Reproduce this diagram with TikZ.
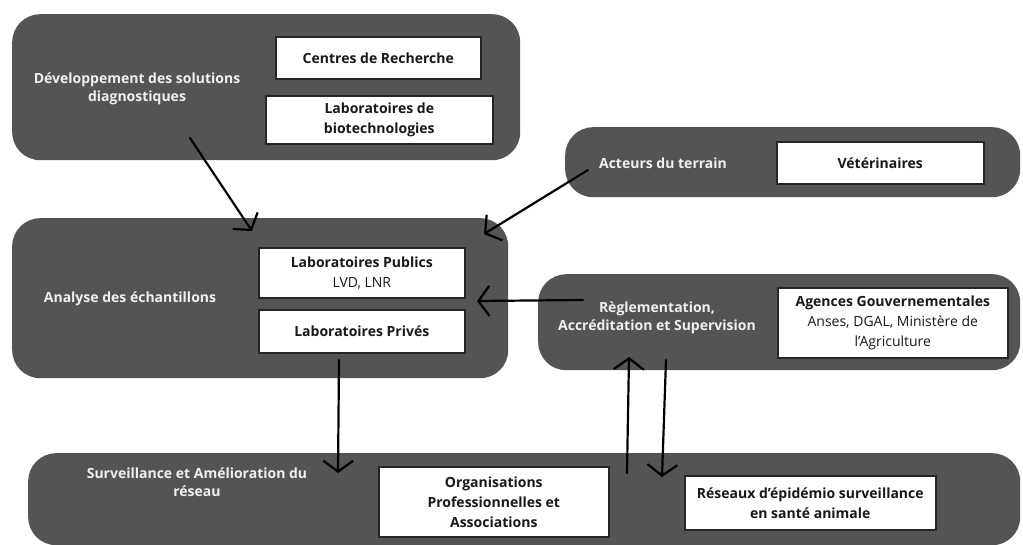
\documentclass[tikz,border=0pt]{standalone}
\usepackage{fontspec}
\setmainfont{Open Sans}
\usetikzlibrary{arrows.meta}
\definecolor{panelgray}{HTML}{545454}
\tikzset{
  panel/.style={fill=panelgray, draw=none, rounded corners=28pt, inner sep=0pt, anchor=north west},
  wbox/.style={fill=white, draw=black!85, line width=1.6pt, inner sep=0pt, anchor=north west, align=center,
    font=\bfseries\fontsize{14}{20}\selectfont, text=black!90},
  plabel/.style={text=white!94!black, font=\bfseries\fontsize{14}{17.5}\selectfont, align=center},
  flow/.style={draw=black, line width=2.2pt, line cap=round, -{Straight Barb[length=11pt,width=30pt]}},
}
\begin{document}
\begin{tikzpicture}[x=1pt,y=-1pt]
\useasboundingbox (0,0) rectangle (1023,544);
% panel 1
\node[panel, minimum width=508pt, minimum height=146pt] (p1) at (12,14) {};
\node[plabel] (l1) at (137,89) {Développement des solutions\\diagnostiques};
\node[wbox, minimum width=205pt, minimum height=42pt] (b1) at (275,36) {Centres de Recherche};
\node[wbox, minimum width=227pt, minimum height=48pt] (b2) at (265,95) {Laboratoires de\\biotechnologies};
% panel 2
\node[panel, minimum width=496pt, minimum height=160pt] (p2) at (12,218) {};
\node[plabel] (l2) at (130,299) {Analyse des échantillons};
\node[wbox, minimum width=206pt, minimum height=50pt] (b3) at (258,247) {Laboratoires Publics\\\mdseries LVD, LNR};
\node[wbox, minimum width=206pt, minimum height=43pt] (b4) at (258,309) {Laboratoires Privés};
% panel 3
\node[panel, minimum width=455pt, minimum height=70pt] (p3) at (565,127) {};
\node[plabel] (l3) at (663,163) {Acteurs du terrain};
\node[wbox, minimum width=207pt, minimum height=42pt] (b5) at (776,141) {Vétérinaires};
% panel 4
\node[panel, minimum width=482pt, minimum height=96pt] (p4) at (538,274) {};
\node[plabel] (l4) at (657,318) {Règlementation,\\Accréditation et Supervision};
\node[wbox, minimum width=230pt, minimum height=70pt] (b6) at (777,287) {Agences Gouvernementales\\\mdseries Anses, DGAL, Ministère de\\\mdseries l’Agriculture};
% panel 5
\node[panel, minimum width=992pt, minimum height=92pt] (p5) at (28,453) {};
\node[plabel] (l5) at (197,482) {Surveillance et Amélioration du\\réseau};
\node[wbox, minimum width=230pt, minimum height=70pt] (b7) at (378,466) {Organisations\\Professionnelles et\\Associations};
\node[wbox, minimum width=251pt, minimum height=54pt] (b8) at (684,475) {Réseaux d’épidémio surveillance\\en santé animale};
% arrow ends
\coordinate (a1s) at (190,138); \coordinate (a1e) at (252,231);
\coordinate (a2s) at (588,170); \coordinate (a2e) at (484,234);
\coordinate (a3s) at (583,300); \coordinate (a3e) at (477,301);
\coordinate (a4s) at (339,360); \coordinate (a4e) at (338,473);
\coordinate (a5s) at (627,473); \coordinate (a5e) at (629,357);
\coordinate (a6s) at (666,360); \coordinate (a6e) at (662,477);
\draw[flow] (a1s) -- (a1e);
\draw[flow] (a2s) -- (a2e);
\draw[flow] (a3s) -- (a3e);
\draw[flow] (a4s) -- (a4e);
\draw[flow] (a5s) -- (a5e);
\draw[flow] (a6s) -- (a6e);
\end{tikzpicture}
\end{document}
